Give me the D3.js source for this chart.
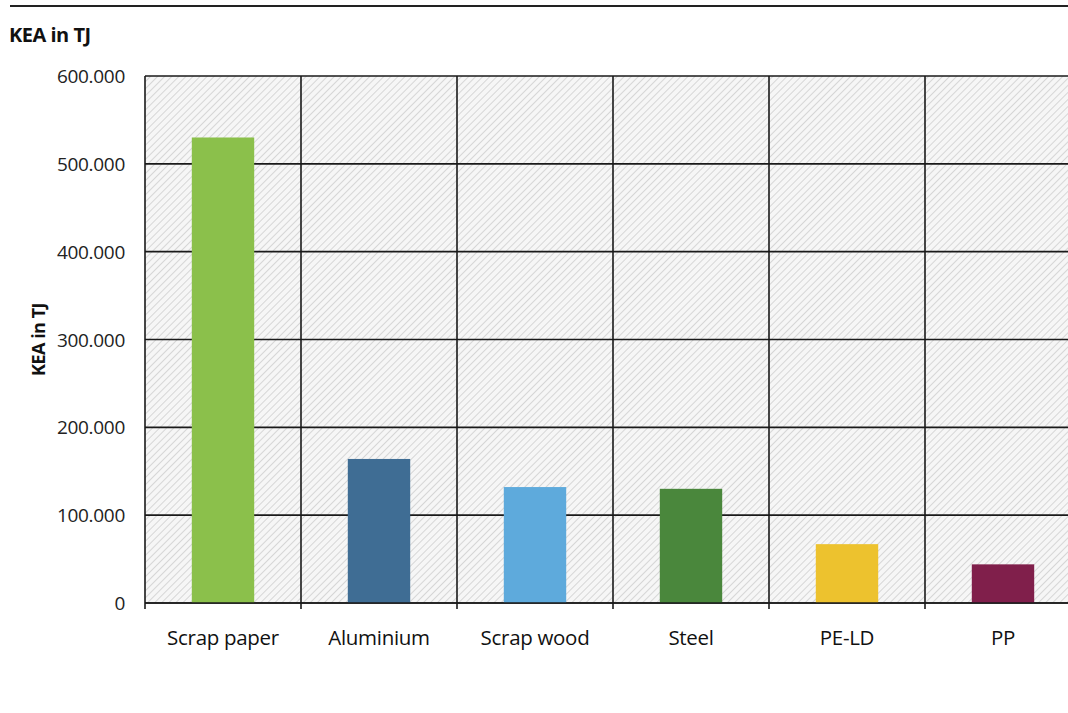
<!DOCTYPE html>
<html>
<head>
<meta charset="utf-8">
<script src="https://cdn.jsdelivr.net/npm/d3@7"></script>
<style>
  body { margin: 0; background: #fff; }
  svg { display: block; font-family: "Open Sans", sans-serif; }
</style>
</head>
<body>
<div id="chart"></div>
<script>
// data
var categories = ["Scrap paper", "Aluminium", "Scrap wood", "Steel", "PE-LD", "PP"];
var values = [530, 164, 132, 130, 67, 44];           // thousand TJ
var colors = ["#8bc04b", "#3f6d94", "#5eaadc", "#4a873c", "#edc22e", "#801f4b"];
var yTicks = [0, 100, 200, 300, 400, 500, 600];

var W = 1068, H = 713;
var margin = { left: 145, top: 76, bottom: 110 };
var plotRight = 1081; // the plot runs past the picture edge

var svg = d3.select("#chart").append("svg")
    .attr("width", W)
    .attr("height", H);

// hatch pattern for the plot background
var defs = svg.append("defs");
var pat = defs.append("pattern")
    .attr("id", "hatch")
    .attr("patternUnits", "userSpaceOnUse")
    .attr("width", 5)
    .attr("height", 5)
    .attr("patternTransform", "rotate(45)");
pat.append("rect").attr("width", 5).attr("height", 5).attr("fill", "#f6f6f6");
pat.append("line")
    .attr("x1", 0).attr("y1", 0).attr("x2", 0).attr("y2", 5)
    .attr("stroke", "#d6d6d6").attr("stroke-width", 2);

var x = d3.scaleBand()
    .domain(categories)
    .range([margin.left, plotRight])
    .paddingInner(0)
    .paddingOuter(0);

var y = d3.scaleLinear()
    .domain([0, 600])
    .range([H - margin.bottom, margin.top]);

// top rule and title
svg.append("line")
    .attr("x1", 10).attr("x2", W)
    .attr("y1", 6).attr("y2", 6)
    .attr("stroke", "#222").attr("stroke-width", 2);

svg.append("text")
    .text("KEA in TJ")
    .attr("x", 9).attr("y", 42)
    .style("font-size", "20px")
    .style("font-weight", "bold")
    .style("letter-spacing", "-0.5px")
    .style("fill", "#111");

// plot background
svg.append("rect")
    .attr("x", margin.left)
    .attr("y", y(600))
    .attr("width", plotRight - margin.left)
    .attr("height", y(0) - y(600))
    .attr("fill", "url(#hatch)");

// horizontal gridlines
svg.append("g")
    .selectAll("line")
    .data(yTicks)
    .join("line")
    .attr("x1", margin.left).attr("x2", plotRight)
    .attr("y1", d => y(d)).attr("y2", d => y(d))
    .attr("stroke", "#1a1a1a").attr("stroke-width", 1.6);

// vertical gridlines at category boundaries
var bounds = categories.map(c => x(c)).concat([plotRight]);
svg.append("g")
    .selectAll("line")
    .data(bounds)
    .join("line")
    .attr("x1", d => d).attr("x2", d => d)
    .attr("y1", y(600)).attr("y2", y(0) + 6)
    .attr("stroke", "#1a1a1a").attr("stroke-width", 1.6);

// bars
var barW = x.bandwidth() * 0.4;
svg.append("g")
    .selectAll("rect")
    .data(values)
    .join("rect")
    .attr("x", (d, i) => x(categories[i]) + (x.bandwidth() - barW) / 2)
    .attr("y", d => y(d))
    .attr("width", barW)
    .attr("height", d => y(0) - y(d))
    .attr("fill", (d, i) => colors[i]);

// redraw the baseline over the bars
svg.append("line")
    .attr("x1", margin.left).attr("x2", plotRight)
    .attr("y1", y(0)).attr("y2", y(0))
    .attr("stroke", "#1a1a1a").attr("stroke-width", 1.6);

// y tick labels
svg.append("g")
    .selectAll("text")
    .data(yTicks)
    .join("text")
    .text(d => d === 0 ? "0" : d3.format(",")(d * 1000).replace(/,/g, "."))
    .attr("x", 125)
    .attr("y", d => y(d) + 7)
    .attr("text-anchor", "end")
    .style("font-size", "19px")
    .style("letter-spacing", "-0.3px")
    .style("fill", "#222");

// category labels
svg.append("g")
    .selectAll("text")
    .data(categories)
    .join("text")
    .text(d => d)
    .attr("x", d => x(d) + x.bandwidth() / 2)
    .attr("y", 645)
    .attr("text-anchor", "middle")
    .style("font-size", "20.5px")
    .style("letter-spacing", "-0.3px")
    .style("fill", "#111");

// y axis title
svg.append("text")
    .text("KEA in TJ")
    .attr("transform", "translate(45," + ((y(0) + y(600)) / 2) + ") rotate(-90)")
    .attr("text-anchor", "middle")
    .style("font-size", "18px")
    .style("font-weight", "bold")
    .style("letter-spacing", "-0.5px")
    .style("fill", "#111");
</script>
</body>
</html>
